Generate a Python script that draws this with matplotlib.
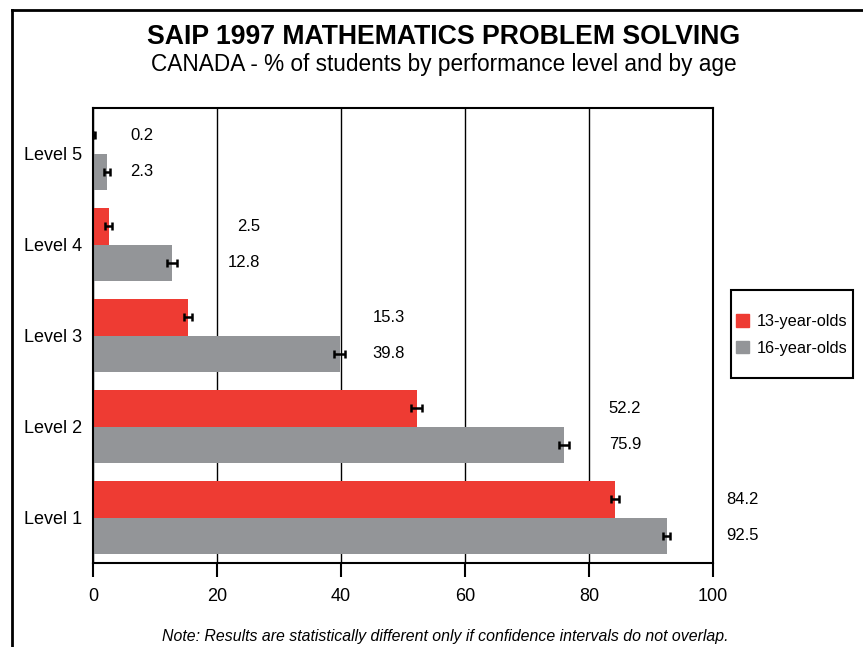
import matplotlib
matplotlib.use("Agg")
import matplotlib.pyplot as plt
from matplotlib.lines import Line2D
from matplotlib.patches import Patch, Rectangle
import numpy as np

plt.rcParams["font.family"] = ["Liberation Sans", "DejaVu Sans"]

levels = ["Level 1", "Level 2", "Level 3", "Level 4", "Level 5"]
age13 = [84.2, 52.2, 15.3, 2.5, 0.2]
age16 = [92.5, 75.9, 39.8, 12.8, 2.3]
err13 = [0.7, 0.9, 0.7, 0.5, 0.2]
err16 = [0.6, 0.8, 0.9, 0.8, 0.5]
label_x = [107.4, 88.4, 50.3, 26.9, 9.7]

red = "#ee3b33"
gray = "#939598"

fig = plt.figure(figsize=(8.63, 6.47), dpi=100)
ax = fig.add_axes([93 / 863, 1 - 563 / 647, 620 / 863, 455 / 647])

y = np.arange(len(levels))
h = 0.4
ax.barh(y + h / 2, age13, height=h, color=red, zorder=2)
ax.barh(y - h / 2, age16, height=h, color=gray, zorder=2)
ax.errorbar(age13, y + h / 2, xerr=err13, fmt="none", ecolor="black",
            elinewidth=1.8, capsize=3, capthick=1.8, zorder=3)
ax.errorbar(age16, y - h / 2, xerr=err16, fmt="none", ecolor="black",
            elinewidth=1.8, capsize=3, capthick=1.8, zorder=3)

for i in range(len(levels)):
    ax.text(label_x[i], y[i] + h / 2, f"{age13[i]}", ha="right", va="center",
            fontsize=12, clip_on=False)
    ax.text(label_x[i], y[i] - h / 2, f"{age16[i]}", ha="right", va="center",
            fontsize=12, clip_on=False)

ax.set_xlim(0, 100)
ax.set_ylim(-0.5, 4.5)
ax.set_xticks([0, 20, 40, 60, 80, 100])
ax.set_yticks(y)
ax.set_yticklabels(levels, fontsize=13)
ax.tick_params(axis="y", length=0, pad=8)
ax.tick_params(axis="x", direction="out", length=10, width=1.5, labelsize=13, pad=8)
ax.grid(axis="x", color="black", linewidth=1.0, zorder=1)
for s in ax.spines.values():
    s.set_linewidth(1.5)

# legend box drawn separately so its padding matches the original
fig.add_artist(Rectangle((731 / 863, 1 - 378 / 647), 122 / 863, 88 / 647,
                         transform=fig.transFigure, fill=False,
                         edgecolor="black", linewidth=1.5))
handles = [Patch(color=red, label="13-year-olds"), Patch(color=gray, label="16-year-olds")]
fig.legend(handles=handles, loc="center", bbox_to_anchor=(792 / 863, 1 - 335 / 647),
           frameon=False, fontsize=11.7, handlelength=0.8, handleheight=0.8,
           labelspacing=0.7, handletextpad=0.5)

fig.text(444 / 863, 1 - 37 / 647, "SAIP 1997 MATHEMATICS PROBLEM SOLVING",
         ha="center", va="center", fontsize=19.2, fontweight="bold")
fig.text(444 / 863, 1 - 65 / 647, "CANADA - % of students by performance level and by age",
         ha="center", va="center", fontsize=16.3)
fig.text(445 / 863, 1 - 636 / 647,
         "Note: Results are statistically different only if confidence intervals do not overlap.",
         ha="center", va="center", fontsize=11.4, style="italic")

# outer frame (left and top edges visible)
fig.add_artist(Line2D([12 / 863, 12 / 863], [0, 1 - 10 / 647], color="black", linewidth=2))
fig.add_artist(Line2D([12 / 863, 1], [1 - 10 / 647, 1 - 10 / 647], color="black", linewidth=2))

fig.savefig("out.png", dpi=100)
